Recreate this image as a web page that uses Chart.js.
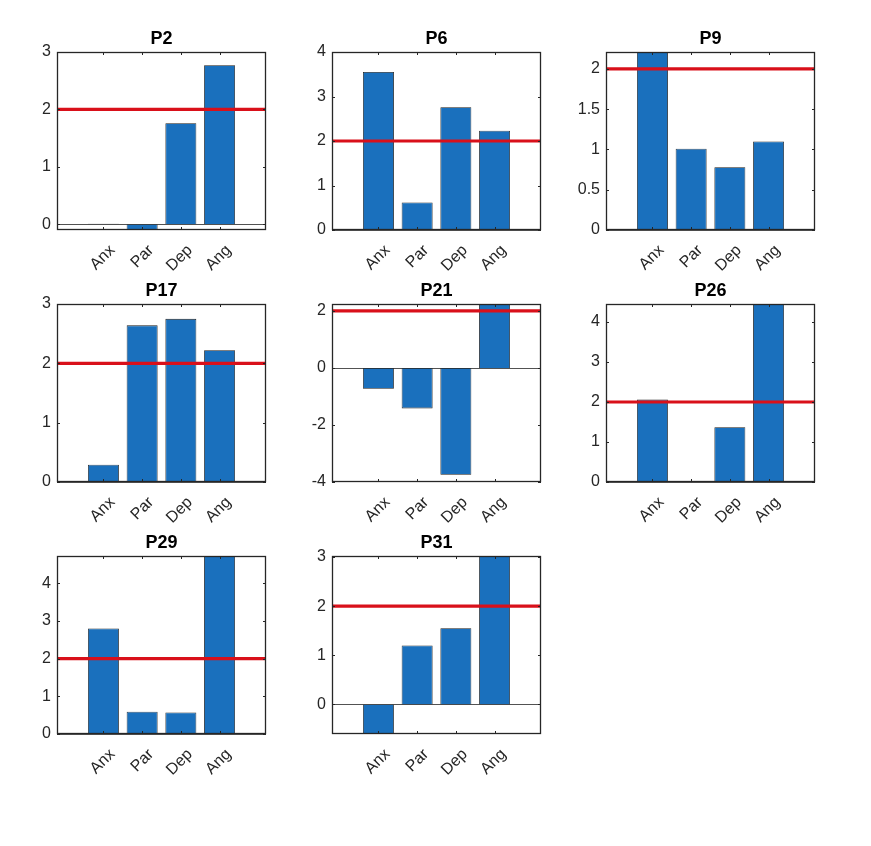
<!DOCTYPE html>
<html>
<head>
<meta charset="utf-8">
<script src="https://cdn.jsdelivr.net/npm/chart.js@4.4.0/dist/chart.umd.min.js"></script>
<style>
  body { margin: 0; background: #fff; }
  #fig { position: relative; width: 871px; height: 846px; }
  #fig canvas { position: absolute; }
</style>
</head>
<body>
<div id="fig"></div>
<script>
'use strict';

// ******* DATA ********

let categories = ['Anx', 'Par', 'Dep', 'Ang'];
let panelNames = ['P2', 'P6', 'P9', 'P17', 'P21', 'P26', 'P29', 'P31'];

let p2Values = [0.01, -0.1, 1.76, 2.77];
let p6Values = [3.55, 0.62, 2.76, 2.23];
let p9Values = [2.21, 1.01, 0.78, 1.10];
let p17Values = [0.29, 2.64, 2.75, 2.22];
let p21Values = [-0.73, -1.42, -3.75, 2.24];
let p26Values = [2.06, 0, 1.37, 4.45];
let p29Values = [2.80, 0.59, 0.57, 4.72];
let p31Values = [-0.6, 1.20, 1.55, 3.02];

// y limits of each panel
let yMins = [-0.1, 0, 0, 0, -4, 0, 0, -0.6];
let yMaxs = [3, 4, 2.21, 3, 2.24, 4.45, 4.72, 3.02];

// y tick labels of each panel
let yTicks = [
  [0, 1, 2, 3],
  [0, 1, 2, 3, 4],
  [0, 0.5, 1, 1.5, 2],
  [0, 1, 2, 3],
  [-4, -2, 0, 2],
  [0, 1, 2, 3, 4],
  [0, 1, 2, 3, 4],
  [0, 1, 2, 3]
];

let threshold = 2;

let allValues = [p2Values, p6Values, p9Values, p17Values, p21Values, p26Values, p29Values, p31Values];

// ******* LAYOUT ********

let colLeft = [57, 332, 606];
let rowTop = [52, 304, 556];
let boxW = 209;
let boxH = 178;
let sideW = 45;    // room for y tick labels
let titleH = 22;   // 18px title + 4px padding
let xAxisH = 50;   // room for rotated labels

let fontFamily = '"Liberation Sans", Arial, Helvetica, sans-serif';
let axisColor = '#262626';

// ******* PLUGIN: matlab style box, ticks, baseline, threshold ********

let matlabAxes = {
  id: 'matlabAxes',
  afterDatasetsDraw(chart, args, opts) {
    let ctx = chart.ctx;
    let a = chart.chartArea;
    let x = chart.scales.x;
    let y = chart.scales.y;
    ctx.save();

    // bar baseline at zero
    let y0 = Math.round(y.getPixelForValue(0)) + 0.5;
    ctx.strokeStyle = axisColor;
    ctx.lineWidth = 0.8;
    ctx.beginPath();
    ctx.moveTo(a.left, y0);
    ctx.lineTo(a.right, y0);
    ctx.stroke();

    // red threshold line
    let yt = y.getPixelForValue(opts.threshold);
    ctx.strokeStyle = '#d9101a';
    ctx.lineWidth = 3.2;
    ctx.beginPath();
    ctx.moveTo(a.left, yt);
    ctx.lineTo(a.right, yt);
    ctx.stroke();

    // box
    ctx.strokeStyle = axisColor;
    ctx.lineWidth = 1.3;
    ctx.strokeRect(a.left + 0.5, a.top + 0.5, a.width - 1, a.height - 1);

    // inward ticks on all four sides
    let tl = 3;
    ctx.lineWidth = 1;
    ctx.beginPath();
    x.ticks.forEach(function(t) {
      let px = Math.round(x.getPixelForValue(t.value)) + 0.5;
      ctx.moveTo(px, a.bottom);
      ctx.lineTo(px, a.bottom - tl);
      ctx.moveTo(px, a.top);
      ctx.lineTo(px, a.top + tl);
    });
    y.ticks.forEach(function(t) {
      let py = Math.round(y.getPixelForValue(t.value)) + 0.5;
      ctx.moveTo(a.left, py);
      ctx.lineTo(a.left + tl, py);
      ctx.moveTo(a.right, py);
      ctx.lineTo(a.right - tl, py);
    });
    ctx.stroke();

    ctx.restore();
  }
};

// ******* BUILD PANELS ********

let fig = document.getElementById('fig');

function makePanel(k) {
  let col = k % 3;
  let row = Math.floor(k / 3);
  let canvas = document.createElement('canvas');
  let w = sideW + boxW + sideW;
  let h = titleH + boxH + xAxisH;
  canvas.width = w;
  canvas.height = h;
  canvas.style.width = w + 'px';
  canvas.style.height = h + 'px';
  canvas.style.left = (colLeft[col] - sideW) + 'px';
  canvas.style.top = (rowTop[row] - titleH) + 'px';
  fig.appendChild(canvas);

  let points = allValues[k].map(function(v, i) {
    return { x: i + 1, y: v };
  });

  new Chart(canvas, { //eslint-disable-line
    type: 'bar',
    data: {
      datasets: [{
        data: points,
        backgroundColor: '#1a70bd',
        borderColor: '#1c1c1c',
        borderWidth: 0.8,
        barPercentage: 0.8,
        categoryPercentage: 1
      }]
    },
    options: {
      responsive: false,
      animation: false,
      layout: { padding: { left: 0, right: sideW, top: 0, bottom: 0 } },
      plugins: {
        legend: { display: false },
        tooltip: { enabled: false },
        title: {
          display: true,
          fullSize: false,
          text: panelNames[k],
          color: '#000',
          font: { family: fontFamily, size: 18, weight: 'bold', lineHeight: 1 },
          padding: { top: 0, bottom: 4 }
        },
        matlabAxes: { threshold: threshold }
      },
      scales: {
        x: {
          type: 'linear',
          offset: false,
          min: -0.2,
          max: 5.2,
          grid: { display: false, drawTicks: false },
          border: { display: false },
          afterBuildTicks: function(s) {
            s.ticks = categories.map(function(c, i) { return { value: i + 1 }; });
          },
          afterFit: function(s) { s.height = xAxisH; },
          ticks: {
            autoSkip: false,
            minRotation: 45,
            maxRotation: 45,
            padding: 11,
            labelOffset: 9,
            color: axisColor,
            font: { family: fontFamily, size: 16 },
            callback: function(v) { return categories[Math.round(v) - 1]; }
          }
        },
        y: {
          type: 'linear',
          min: yMins[k],
          max: yMaxs[k],
          grid: { display: false, drawTicks: false },
          border: { display: false },
          afterBuildTicks: function(s) {
            s.ticks = yTicks[k].map(function(v) { return { value: v }; });
          },
          afterFit: function(s) { s.width = sideW; },
          ticks: {
            padding: 6,
            color: axisColor,
            font: { family: fontFamily, size: 16 },
            callback: function(v) { return String(v); }
          }
        }
      }
    },
    plugins: [matlabAxes]
  });
}

for (let k = 0; k < panelNames.length; k++) {
  makePanel(k);
}
</script>
</body>
</html>
